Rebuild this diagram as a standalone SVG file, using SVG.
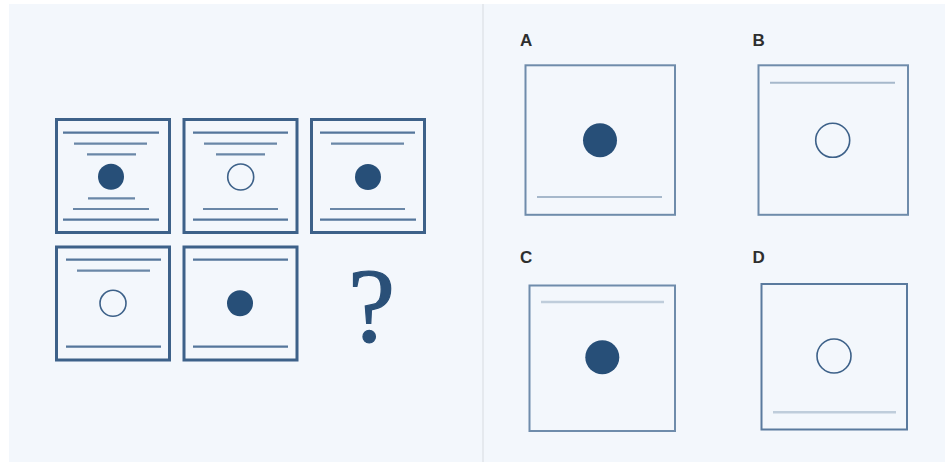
<svg xmlns="http://www.w3.org/2000/svg" width="945" height="463" viewBox="0 0 945 463">
<style>
.frame{fill:none;stroke:#3d6189;stroke-width:3}
.ln{stroke:#6a87a7;stroke-width:2.2}
.lnd{stroke:#55769b;stroke-width:2.2}
.fill{fill:#274f78}
.ring{fill:none;stroke:#3d6189;stroke-width:1.6}
.oframe{fill:none;stroke:#6f8cab;stroke-width:2}
.oln{stroke:#a6b8cb;stroke-width:2}
.oln2{stroke:#bfcddb;stroke-width:2.6}
.lbl{font-family:"Liberation Sans",Arial,sans-serif;font-weight:bold;font-size:17px;fill:#2e2e2e}
</style>
<rect x="0" y="0" width="945" height="463" fill="#ffffff"/>
<rect x="9" y="4" width="936" height="458" fill="#f3f7fc"/>
<line x1="483" y1="4" x2="483" y2="462" stroke="#e1e5ea" stroke-width="1.5"/>
<g id="cell-1-1">
<rect class="frame" x="56.5" y="119.5" width="113" height="113"/>
<line class="lnd" x1="63" y1="132.7" x2="159" y2="132.7"/>
<line class="ln" x1="74" y1="143.7" x2="147" y2="143.7"/>
<line class="ln" x1="87" y1="154.3" x2="136" y2="154.3"/>
<circle class="fill" cx="111" cy="176.7" r="13"/>
<line class="ln" x1="88" y1="198.3" x2="135" y2="198.3"/>
<line class="ln" x1="73" y1="209" x2="149" y2="209"/>
<line class="lnd" x1="63" y1="219.7" x2="159" y2="219.7"/>
</g>
<g id="cell-1-2">
<rect class="frame" x="184" y="119.5" width="113" height="113"/>
<line class="lnd" x1="193" y1="132.7" x2="288" y2="132.7"/>
<line class="ln" x1="204" y1="143.7" x2="277" y2="143.7"/>
<line class="ln" x1="216" y1="154.3" x2="265" y2="154.3"/>
<circle class="ring" cx="240.7" cy="177" r="13"/>
<line class="ln" x1="203" y1="209" x2="278" y2="209"/>
<line class="lnd" x1="193" y1="219.7" x2="288" y2="219.7"/>
</g>
<g id="cell-1-3">
<rect class="frame" x="311.5" y="119.5" width="113" height="113"/>
<line class="lnd" x1="320" y1="132.7" x2="415" y2="132.7"/>
<line class="ln" x1="331" y1="143.7" x2="404" y2="143.7"/>
<circle class="fill" cx="368" cy="177" r="13"/>
<line class="ln" x1="330" y1="209" x2="405" y2="209"/>
<line class="lnd" x1="320" y1="219.7" x2="416" y2="219.7"/>
</g>
<g id="cell-2-1">
<rect class="frame" x="56.5" y="247" width="113" height="113"/>
<line class="lnd" x1="66" y1="259.7" x2="161" y2="259.7"/>
<line class="ln" x1="77" y1="270.7" x2="150" y2="270.7"/>
<circle class="ring" cx="113" cy="303.3" r="13"/>
<line class="lnd" x1="66" y1="346.7" x2="161" y2="346.7"/>
</g>
<g id="cell-2-2">
<rect class="frame" x="184" y="247" width="113" height="113"/>
<line class="lnd" x1="193" y1="259.7" x2="288" y2="259.7"/>
<circle class="fill" cx="240" cy="303.3" r="13"/>
<line class="lnd" x1="193" y1="346.7" x2="288" y2="346.7"/>
</g>
<g id="cell-2-3">
<text x="371.5" y="342" text-anchor="middle" font-family="Liberation Serif,'Times New Roman',serif" font-size="106" fill="#2a5078" stroke="#2a5078" stroke-width="1.2">?</text>
</g>
<g id="option-A">
<text class="lbl" x="520" y="46">A</text>
<rect class="oframe" x="525.5" y="65.3" width="149.5" height="149.5"/>
<circle class="fill" cx="600" cy="140.3" r="17"/>
<line class="oln" x1="537" y1="197" x2="662" y2="197"/>
</g>
<g id="option-B">
<text class="lbl" x="752.5" y="46">B</text>
<rect class="oframe" x="758.5" y="65.3" width="149.5" height="149.5"/>
<line class="oln" x1="770" y1="82.7" x2="895" y2="82.7"/>
<circle class="ring" cx="832.7" cy="140.3" r="17"/>
</g>
<g id="option-C">
<text class="lbl" x="520" y="263">C</text>
<rect class="oframe" x="529.5" y="285.5" width="145.5" height="145.5"/>
<line class="oln2" x1="541" y1="302" x2="664" y2="302"/>
<circle class="fill" cx="602.3" cy="357.3" r="17"/>
</g>
<g id="option-D">
<text class="lbl" x="752.5" y="263">D</text>
<rect class="oframe" x="761.5" y="284" width="145.5" height="145.5" style="stroke:#5a7a9e"/>
<circle class="ring" cx="834" cy="356" r="17"/>
<line class="oln2" x1="773" y1="412.3" x2="896" y2="412.3"/>
</g>
<g id="connectors"/>
</svg>
